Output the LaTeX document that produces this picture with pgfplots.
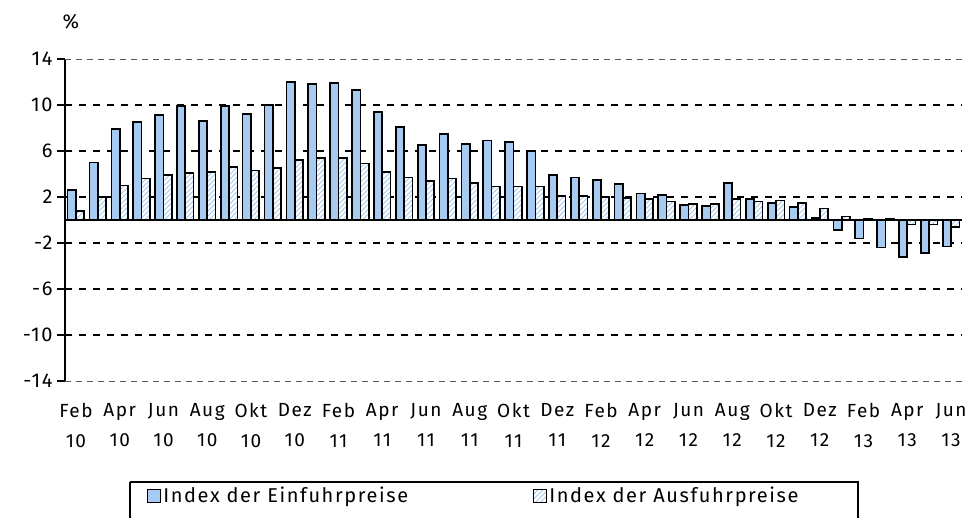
\documentclass[border=0pt]{standalone}
\usepackage{pgfplots}
\pgfplotsset{compat=1.18}
\usepackage{pgfplotstable}
\usetikzlibrary{patterns.meta}
\usepackage{fontspec}
\setmainfont{Fira Sans}[LetterSpace=8]
\definecolor{impblue}{RGB}{166,202,240}
\definecolor{hatchblue}{RGB}{165,200,238}

\pgfplotstableread{
idx imp exp
0 2.6 0.8
1 5.0 2.0
2 7.9 3.0
3 8.5 3.6
4 9.1 3.9
5 9.9 4.1
6 8.6 4.2
7 9.9 4.6
8 9.2 4.3
9 10.0 4.5
10 12.0 5.2
11 11.8 5.4
12 11.9 5.4
13 11.3 4.9
14 9.4 4.2
15 8.1 3.7
16 6.5 3.4
17 7.5 3.6
18 6.6 3.2
19 6.9 2.9
20 6.8 2.9
21 6.0 2.9
22 3.9 2.1
23 3.7 2.1
24 3.5 2.0
25 3.1 1.9
26 2.3 1.8
27 2.2 1.6
28 1.3 1.4
29 1.2 1.4
30 3.2 1.8
31 1.8 1.6
32 1.5 1.7
33 1.1 1.5
34 0.2 1.0
35 -0.9 0.3
36 -1.6 0.1
37 -2.4 0.1
38 -3.2 -0.4
39 -2.9 -0.4
40 -2.3 -0.6
}\data

\begin{document}
\begin{tikzpicture}[x=1pt,y=1pt]
\useasboundingbox (0,0) rectangle (970,518);
\begin{axis}[
  at={(65pt,137pt)}, anchor=south west,
  scale only axis, width=897pt, height=322pt,
  xmin=-0.5, xmax=40.5, ymin=-14, ymax=14,
  axis y line*=left, axis x line*=bottom,
  x axis line style={draw=none},
  y axis line style={line width=1.6pt, black},
  xtick={0,2,...,40},
  xticklabels={{Feb\\10},{Apr\\10},{Jun\\10},{Aug\\10},{Okt\\10},{Dez\\10},
    {Feb\\11},{Apr\\11},{Jun\\11},{Aug\\11},{Okt\\11},{Dez\\11},
    {Feb\\12},{Apr\\12},{Jun\\12},{Aug\\12},{Okt\\12},{Dez\\12},
    {Feb\\13},{Apr\\13},{Jun\\13}},
  xtick style={draw=none},
  xticklabel style={align=center, font=\fontsize{19}{30}\selectfont, yshift=-11pt},
  ytick={-10,-6,-2,2,6,10},
  yticklabels={-10,-6,-2,2,6,10},
  extra y ticks={-14,14},
  extra y tick labels={-14,14},
  extra y tick style={grid style={gray!70!black, line width=0.8pt, dash pattern=on 6pt off 5pt}},
  ytick style={line width=1.6pt, black},
  tick align=outside,
  major tick length=8pt,
  yticklabel style={font=\fontsize{20}{22}\selectfont, xshift=-1pt},
  ymajorgrids,
  grid style={black, line width=2.8pt, dash pattern=on 7pt off 7pt},
  legend columns=2,
  legend style={at={(0.0914,-0.357)}, anchor=west, draw=none, fill=none,
    inner xsep=0pt, inner ysep=0pt,
    font=\fontsize{20}{22}\selectfont,
    /tikz/every even column/.append style={column sep=123pt}},
  legend cell align=left,
  legend image code/.code={\draw[#1, line width=1.2pt] (0pt,-6.5pt) rectangle (13pt,6.5pt);},
]
\addplot[ybar, bar width=0.38, bar shift=-0.19, fill=impblue, draw=black, line width=1.7pt]
  table[x=idx, y=imp]{\data};
\addlegendentry{Index der Einfuhrpreise}
\addplot[ybar, bar width=0.38, bar shift=0.19, fill=white, draw=black, line width=1.7pt,
  postaction={pattern={Lines[angle=45, distance=3.5pt, line width=0.9pt]}, pattern color=hatchblue}]
  table[x=idx, y=exp]{\data};
\addlegendentry{Index der Ausfuhrpreise}
\draw[black, line width=1.6pt] (axis cs:-0.5,0) -- (axis cs:40.5,0);
\end{axis}
\node[font=\fontsize{20}{22}\selectfont] at (71,496) {\%};
\draw[black, line width=1.6pt] (130,36) -- (858,36) -- (858,-10) (130,36) -- (130,-10);
\end{tikzpicture}
\end{document}
